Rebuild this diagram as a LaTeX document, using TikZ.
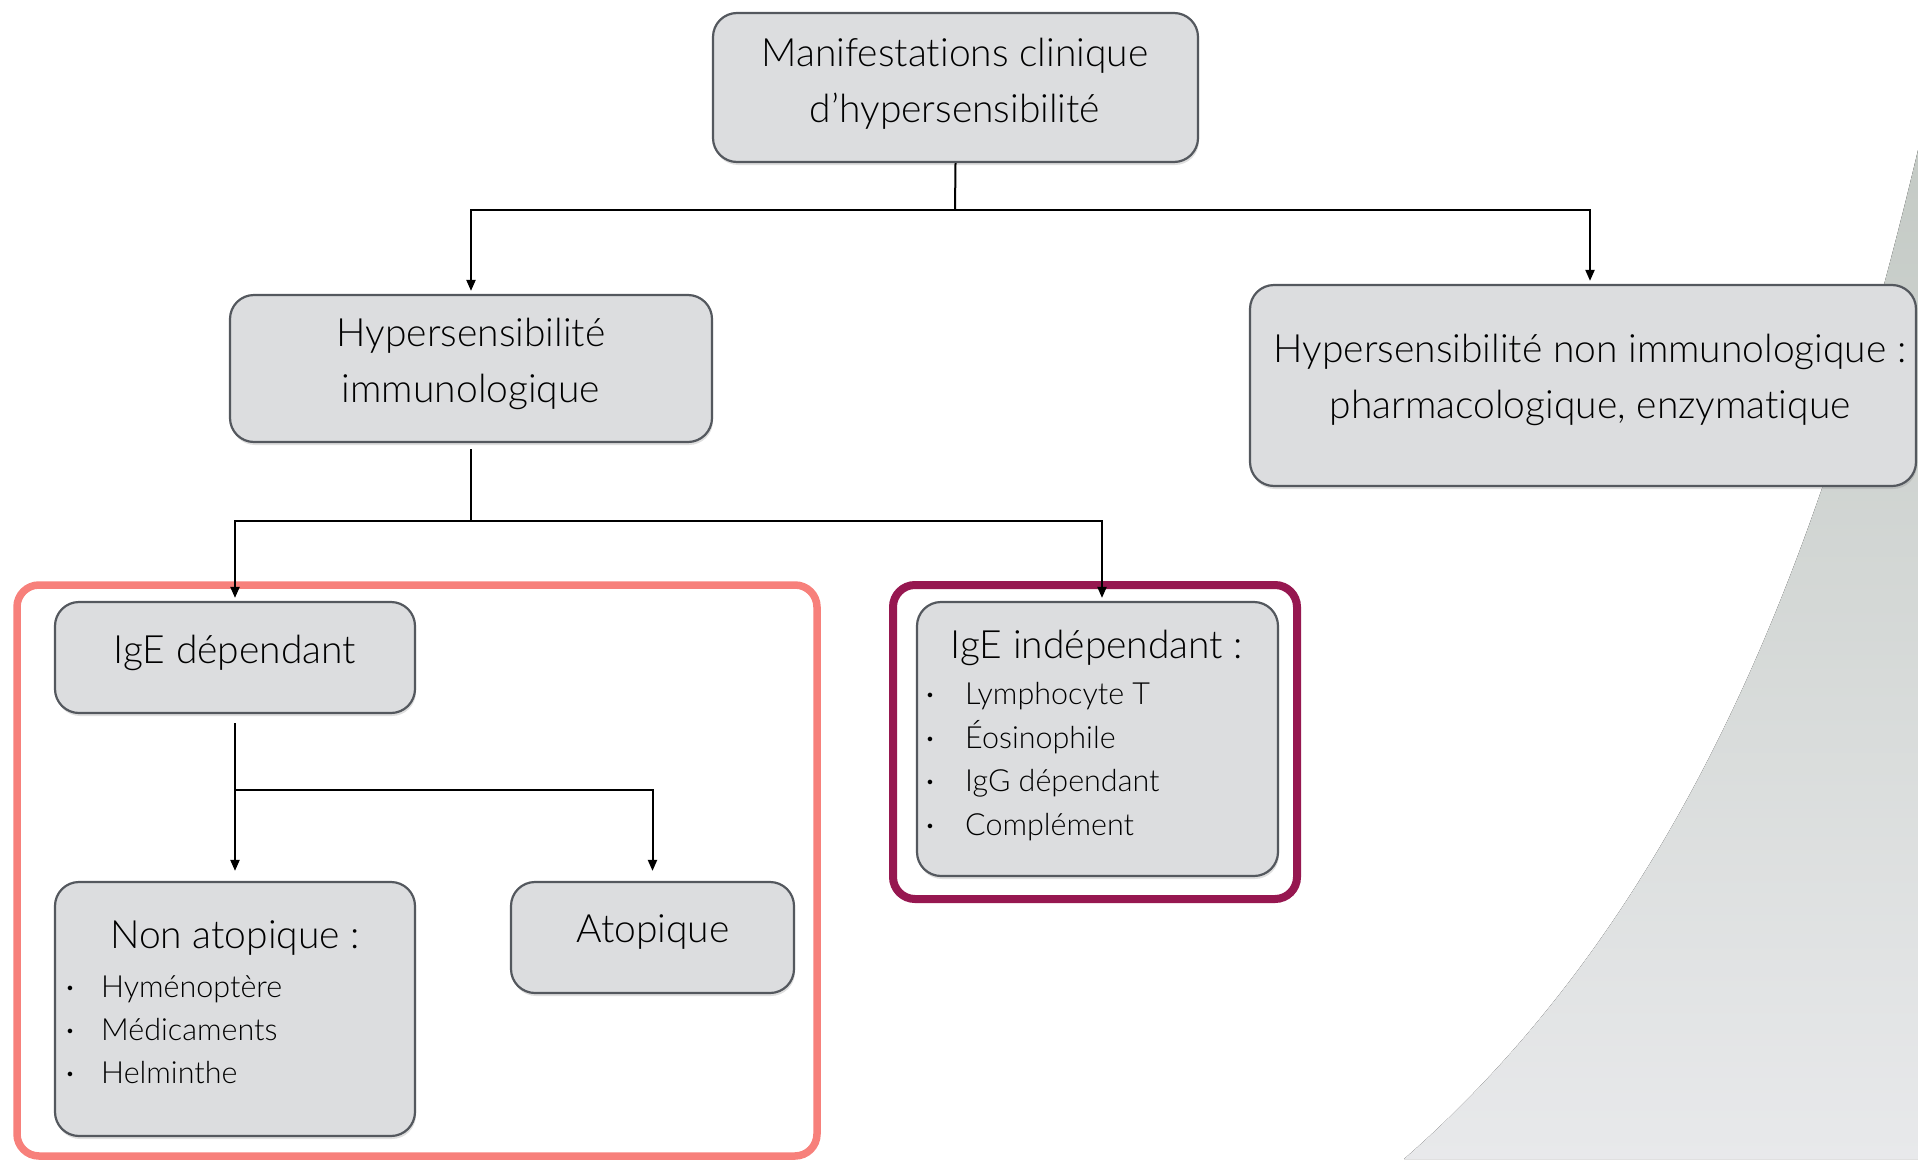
\documentclass[tikz,border=0pt]{standalone}
\usepackage{fontspec}
\setmainfont{Lato}[UprightFont=* Light, Ligatures=NoCommon]
\newfontfamily\bulletfont{Lato}
\usetikzlibrary{arrows.meta,shadows}
\definecolor{boxfill}{HTML}{DCDDDF}
\definecolor{boxdraw}{HTML}{54585E}
\definecolor{pinkframe}{HTML}{F7807B}
\definecolor{purpleframe}{HTML}{961750}
\definecolor{bgtop}{HTML}{C4CAC5}
\definecolor{bgmid}{HTML}{D9DCDA}
\definecolor{bgbot}{HTML}{E8E9EB}
\tikzset{
  box/.style={draw=boxdraw, line width=2.2pt, fill=boxfill, rounded corners=24pt,
    drop shadow={opacity=0.25, shadow xshift=1pt, shadow yshift=-3pt}, inner sep=0pt},
  frame/.style={line width=7.5pt, rounded corners=22pt, inner sep=0pt},
  txt/.style={inner sep=0pt, align=center, text=black},
  item/.style={inner sep=0pt, anchor=base west, text=black, font=\fontsize{30.5}{36}\selectfont},
  bul/.style={inner sep=0pt, anchor=base west, text=black, font=\fontsize{30.5}{36}\bulletfont},
  conn/.style={line width=2pt, draw=black},
  arr/.style={conn, -{Triangle[length=11pt,width=9pt]}, shorten >=3pt},
}
\begin{document}
\begin{tikzpicture}[x=1pt,y=-1pt]
\useasboundingbox (0,0) rectangle (1918,1159);
% background decoration
\fill[top color=bgtop, middle color=bgmid, bottom color=bgbot]
  (1918,150) .. controls (1830,520) and (1700,900) .. (1404,1159) -- (1918,1159) -- cycle;
% frames
\node[frame, draw=pinkframe, minimum width=800pt, minimum height=571pt] (pinkbox) at (417,870.5) {};
\node[frame, draw=purpleframe, line width=8pt, minimum width=404pt, minimum height=314pt] (purplebox) at (1095,742) {};
% boxes
\node[box, minimum width=485pt, minimum height=149pt] (top) at (955.5,87.5) {};
\node[box, minimum width=482pt, minimum height=147pt] (immun) at (471,368.5) {};
\node[box, minimum width=666pt, minimum height=201pt] (nonimm) at (1583,385.5) {};
\node[box, minimum width=360pt, minimum height=111pt] (igedep) at (235,657.5) {};
\node[box, minimum width=360pt, minimum height=254pt] (nonatop) at (235,1009) {};
\node[box, minimum width=283pt, minimum height=111pt] (atop) at (652.5,937.5) {};
\node[box, minimum width=361pt, minimum height=274pt] (igeind) at (1097.5,739) {};
% texts
\node[txt, font=\fontsize{39}{56}\selectfont] (ttop) at (955,83.5) {Manifestations clinique\\d’hypersensibilité};
\node[txt, font=\fontsize{39}{56}\selectfont] (timmun) at (471,364) {Hypersensibilité\\immunologique};
\node[txt, font=\fontsize{39}{56}\selectfont] (tnonimm) at (1590,380) {Hypersensibilité non immunologique :\\pharmacologique, enzymatique};
\node[txt, font=\fontsize{39}{46}\selectfont] (tigedep) at (235,652.5) {IgE dépendant};
\node[txt, font=\fontsize{39}{46}\selectfont] (tnonatop) at (235,938.5) {Non atopique :};
\node[txt, font=\fontsize{39}{46}\selectfont] (tatop) at (653,932.5) {Atopique};
\node[txt, font=\fontsize{39}{46}\selectfont] (tigeind) at (1097,647.5) {IgE indépendant :};
% items non atopique
\node[bul] (b1) at (66,997.5) {·};
\node[item] (i1) at (101,997.5) {Hyménoptère};
\node[bul] (b2) at (66,1040.5) {·};
\node[item] (i2) at (101,1040.5) {Médicaments};
\node[bul] (b3) at (66,1083.5) {·};
\node[item] (i3) at (101,1083.5) {Helminthe};
% items IgE independant
\node[bul] (b4) at (926,704.5) {·};
\node[item] (i4) at (965,704.5) {Lymphocyte T};
\node[bul] (b5) at (926,748.5) {·};
\node[item] (i5) at (965,748.5) {Éosinophile};
\node[bul] (b6) at (926,791.5) {·};
\node[item] (i6) at (965,791.5) {IgG dépendant};
\node[bul] (b7) at (926,835.5) {·};
\node[item] (i7) at (965,835.5) {Complément};
% connectors
\coordinate (j1) at (955,210);
\draw[conn] (top.south) -- (j1);
\draw[arr] (j1) -| (immun.north);
\draw[arr] (j1) -| ([xshift=7pt]nonimm.north);
\coordinate (j2) at (471,521);
\draw[conn] ([yshift=-6pt]immun.south) -- (j2);
\draw[arr] (j2) -| (igedep.north);
\draw[arr] (j2) -| ([xshift=4.5pt]igeind.north);
\coordinate (j3) at (235,790);
\draw[conn] ([yshift=-9pt]igedep.south) -- (j3);
\draw[arr, shorten >=10pt] (j3) -- (nonatop.north);
\draw[arr, shorten >=10pt] (j3) -| (atop.north);
\end{tikzpicture}
\end{document}
